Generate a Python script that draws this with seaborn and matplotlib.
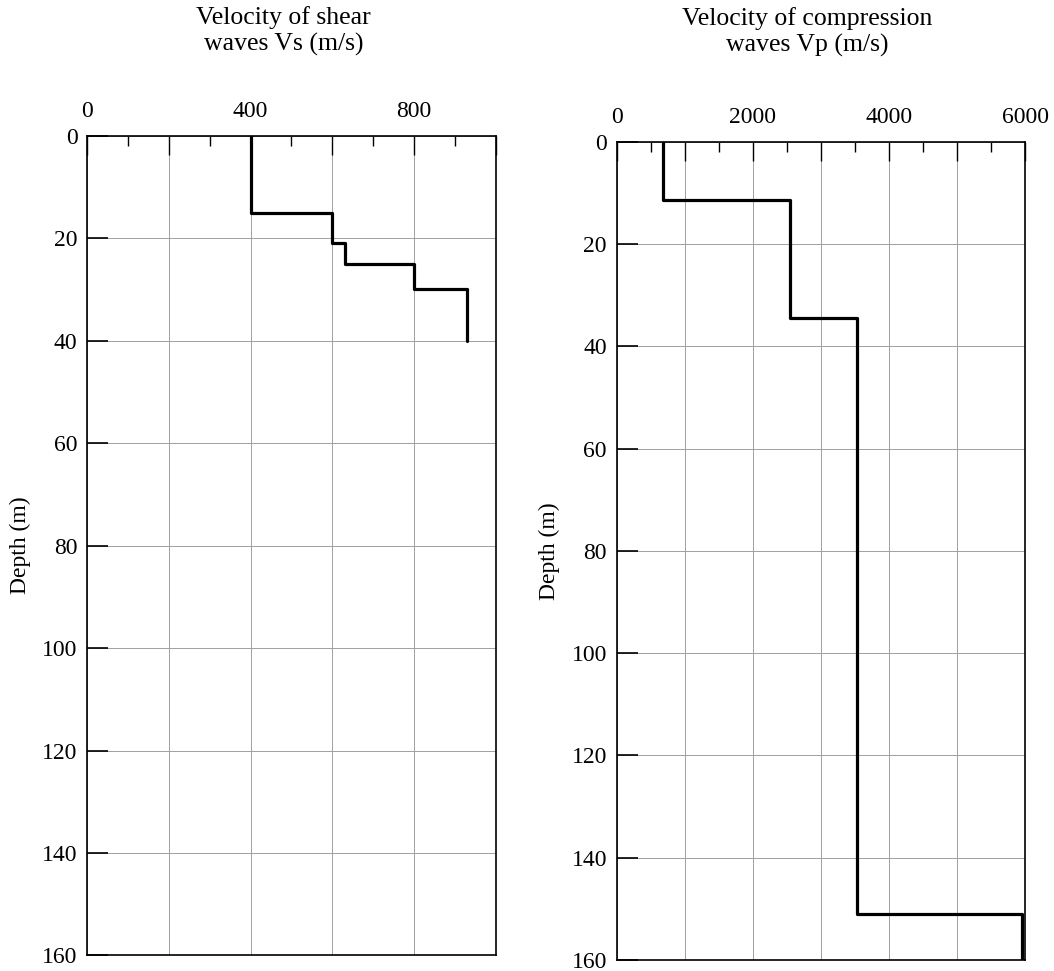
import numpy as np
import pandas as pd
import matplotlib
matplotlib.use('Agg')
import matplotlib.pyplot as plt
import seaborn as sns

# layered velocity profiles (layer boundaries in m, velocity per layer in m/s)
vs_bounds = [0, 15, 21, 25, 30, 40]
vs_values = [400, 600, 630, 800, 930]
vp_bounds = [0, 11.4, 34.5, 151, 160]
vp_values = [680, 2540, 3530, 5950]

vs_xticks = [0, 200, 400, 600, 800, 1000]
vs_xlabels = ['0', '', '400', '', '800', '']
vp_xticks = [0, 1000, 2000, 3000, 4000, 5000, 6000]
vp_xlabels = ['0', '', '2000', '', '4000', '', '6000']
depth_ticks = [0, 20, 40, 60, 80, 100, 120, 140, 160]


def step_profile(bounds, values):
    # turn layer table into a step path (velocity, depth)
    rows = []
    for i, v in enumerate(values):
        rows.append((v, bounds[i]))
        rows.append((v, bounds[i + 1]))
    return pd.DataFrame(rows, columns=['vel', 'depth'])


sns.set_style('white')
plt.rcParams['font.family'] = ['Liberation Serif', 'DejaVu Serif']
plt.rcParams['text.color'] = 'black'
plt.rcParams['xtick.color'] = 'black'
plt.rcParams['ytick.color'] = 'black'
plt.rcParams['axes.labelcolor'] = 'black'

fig = plt.figure(figsize=(10.54, 9.71), dpi=100)
ax1 = fig.add_axes([0.0828, 0.016, 0.3875, 0.8443])
ax2 = fig.add_axes([0.5851, 0.0113, 0.3874, 0.8427])

panels = [
    (ax1, vs_bounds, vs_values, vs_xticks, vs_xlabels, 100,
     'Velocity of shear\nwaves Vs (m/s)', 0.48, 1.097),
    (ax2, vp_bounds, vp_values, vp_xticks, vp_xlabels, 500,
     'Velocity of compression\nwaves Vp (m/s)', 0.467, 1.104),
]

for ax, bounds, values, xt, xl, minor, title, tx, ty in panels:
    df = step_profile(bounds, values)
    sns.lineplot(data=df, x='vel', y='depth', sort=False, estimator=None,
                 color='black', linewidth=2.3, ax=ax)
    ax.set_xlim(xt[0], xt[-1])
    ax.set_ylim(160, 0)
    ax.xaxis.tick_top()
    ax.set_xticks(xt)
    ax.set_xticklabels(xl)
    ax.set_xticks(np.arange(xt[0], xt[-1] + 1, minor), minor=True)
    ax.set_yticks(depth_ticks)
    ax.tick_params(axis='x', which='major', direction='in', length=14, width=1,
                   labelsize=17, pad=10, top=True, bottom=False)
    ax.tick_params(axis='x', which='minor', direction='in', length=7, width=1,
                   top=True, bottom=False)
    ax.tick_params(axis='y', which='major', direction='in', length=15, width=1.2,
                   labelsize=17, pad=7, left=True, right=False)
    ax.grid(True, which='major', color='#a0a0a0', linewidth=0.7)
    for s in ax.spines.values():
        s.set_visible(True)
        s.set_color('black')
        s.set_linewidth(1.2)
    ax.set_xlabel('')
    ax.set_ylabel('Depth (m)', fontsize=17, labelpad=8)
    ax.text(tx, ty, title, transform=ax.transAxes, ha='center', va='bottom',
            fontsize=18.5, linespacing=1.2, multialignment='center')

fig.savefig('out.png', dpi=100)
